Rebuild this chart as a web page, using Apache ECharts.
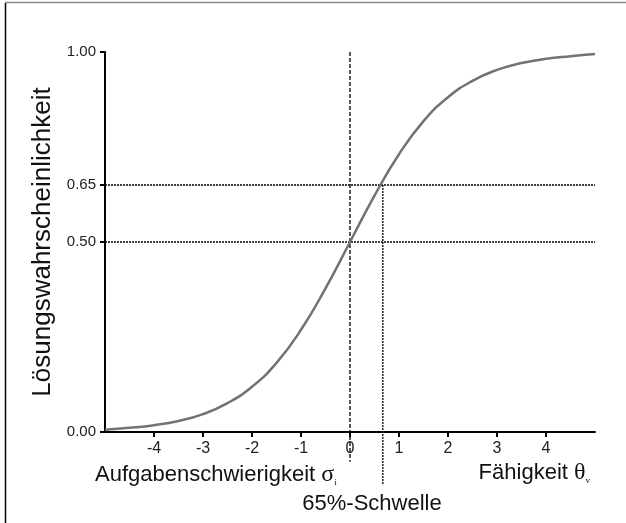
<!DOCTYPE html>
<html>
<head>
<meta charset="utf-8">
<script src="https://cdn.jsdelivr.net/npm/echarts@6/dist/echarts.min.js"></script>
<style>html,body{margin:0;padding:0;background:#fff}#c{width:626px;height:523px}</style>
</head>
<body>
<div id="c"></div>
<script>
// Curve (ability theta vs. probability)
var thetaValues = [-5, -4.5, -4, -3.5, -3, -2.5, -2, -1.5, -1, -0.5, 0, 0.5, 1, 1.5, 2, 2.5, 3, 3.5, 4, 4.5, 5];
var probValues  = [0.006, 0.011, 0.018, 0.029, 0.047, 0.076, 0.119, 0.182, 0.269, 0.378, 0.500, 0.622, 0.731, 0.818, 0.881, 0.924, 0.953, 0.971, 0.982, 0.989, 0.995];
var yTickValues = [0, 0.5, 0.65, 1];
var xTickValues = [-4, -3, -2, -1, 0, 1, 2, 3, 4];
var difficulty = 0;       // sigma_i
var threshold65 = 0.67;   // 65%-Schwelle position
var level50 = 0.5, level65 = 0.65;

var curve = thetaValues.map(function (t, i) { return [t, probValues[i]]; });

var chart = echarts.init(document.getElementById('c'), null, {renderer: 'canvas'});
var font = 'Liberation Sans, Arial, sans-serif';
var serif = 'Liberation Serif, Times New Roman, serif';
chart.setOption({
  animation: false,
  grid: {left: 105, right: 31, top: 52, bottom: 91},
  xAxis: {
    type: 'value', min: -5, max: 5, interval: 1,
    axisLine: {onZero: false, lineStyle: {color: '#000', width: 2}},
    axisTick: {length: 5, lineStyle: {color: '#000', width: 2}, customValues: xTickValues},
    axisLabel: {customValues: xTickValues, color: '#222', fontSize: 16, fontFamily: font, margin: 9},
    splitLine: {show: false}
  },
  yAxis: {
    type: 'value', min: 0, max: 1,
    name: 'Lösungswahrscheinlichkeit', nameLocation: 'middle', nameGap: 46, nameRotate: 90,
    nameTextStyle: {color: '#111', fontSize: 26, fontFamily: font},
    axisLine: {show: true, onZero: false, lineStyle: {color: '#000', width: 2}},
    axisTick: {show: true, length: 5, lineStyle: {color: '#000', width: 2}, customValues: yTickValues},
    axisLabel: {customValues: yTickValues, color: '#222', fontSize: 15, fontFamily: font, margin: 9,
      formatter: function (v) { return v.toFixed(2); }},
    splitLine: {show: false}
  },
  series: [
    {type: 'line', data: [[-5, level65], [5, level65]], symbol: 'none', silent: true,
      lineStyle: {color: '#000', width: 1.3, type: [2, 1]}},
    {type: 'line', data: [[-5, level50], [5, level50]], symbol: 'none', silent: true,
      lineStyle: {color: '#000', width: 1.3, type: [2, 1]}},
    {type: 'line', data: [[difficulty, 1], [difficulty, -0.078]], symbol: 'none', silent: true, clip: false,
      lineStyle: {color: '#000', width: 1.3, type: [4, 2]}},
    {type: 'line', data: [[threshold65, level65], [threshold65, -0.14]], symbol: 'none', silent: true, clip: false,
      lineStyle: {color: '#000', width: 1.3, type: [2, 1]}},
    {type: 'line', data: curve, smooth: true, symbol: 'none', silent: true,
      lineStyle: {color: '#727272', width: 2.5}}
  ],
  graphic: [
    {type: 'line', shape: {x1: 5.5, y1: 3, x2: 5.5, y2: 523}, style: {stroke: '#000', lineWidth: 1.5}},
    {type: 'line', shape: {x1: 5, y1: 2.5, x2: 626, y2: 2.5}, style: {stroke: '#888', lineWidth: 1.5}},
    {type: 'text', left: 95, top: 463, style: {
      text: '{a|Aufgabenschwierigkeit }{s|σ}{b|i}',
      rich: {
        a: {fontSize: 22, fontFamily: font, fill: '#111'},
        s: {fontSize: 24, fontFamily: serif, fill: '#111'},
        b: {fontSize: 9, fontFamily: serif, fill: '#111', verticalAlign: 'bottom', padding: [11, 0, 0, 0]}
      }}},
    {type: 'text', right: 36, top: 461, style: {
      text: '{a|Fähigkeit }{s|θ}{b|v}',
      rich: {
        a: {fontSize: 22, fontFamily: font, fill: '#111'},
        s: {fontSize: 24, fontFamily: serif, fill: '#111'},
        b: {fontSize: 9, fontFamily: serif, fill: '#111', verticalAlign: 'bottom', padding: [11, 0, 0, 0]}
      }}},
    {type: 'text', x: 372, y: 504, style: {text: '65%-Schwelle', fontSize: 22, fontFamily: font, fill: '#111',
      textAlign: 'center', textVerticalAlign: 'middle'}}
  ]
});
</script>
</body>
</html>
